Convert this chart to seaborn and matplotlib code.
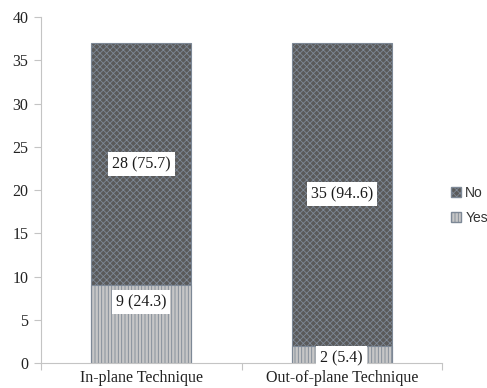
import matplotlib
matplotlib.use("Agg")
import matplotlib.pyplot as plt
import seaborn as sns
import pandas as pd
from matplotlib.patches import Patch

categories = ["In-plane Technique", "Out-of-plane Technique"]
yes_counts = [9, 2]
no_counts = [28, 35]
yes_labels = ["9 (24.3)", "2 (5.4)"]
no_labels = ["28 (75.7)", "35 (94..6)"]

totals = [y + n for y, n in zip(yes_counts, no_counts)]
df = pd.DataFrame({"group": categories, "yes": yes_counts, "no": no_counts, "total": totals})

sns.set_theme(style="white")
plt.rcParams["hatch.linewidth"] = 0.6

fig = plt.figure(figsize=(4.87, 3.88), dpi=100)
ax = fig.add_axes([0.0842, 0.0644, 0.8234, 0.8916])

no_face, no_hatch = "#5a5a5a", "#979797"
yes_face, yes_hatch = "#c6c6c6", "#8e8e8e"
edge = "#7d8896"

# stacked bars: the full height drawn first, the "Yes" part over its base
sns.barplot(data=df, x="group", y="total", color=no_face, width=0.5,
            saturation=1, ax=ax, edgecolor=edge, linewidth=0.8)
n_first = len(ax.patches)
sns.barplot(data=df, x="group", y="yes", color=yes_face, width=0.5,
            saturation=1, ax=ax, edgecolor=edge, linewidth=0.8)

for i, p in enumerate(ax.patches):
    if i < n_first:
        p.set_hatch("xxxxx")
        p.set_facecolor(no_face)
        p._hatch_color = matplotlib.colors.to_rgba(no_hatch)
    else:
        p.set_hatch("|||||")
        p.set_facecolor(yes_face)
        p._hatch_color = matplotlib.colors.to_rgba(yes_hatch)
    p.set_edgecolor(edge)

box = dict(boxstyle="square,pad=0.25", facecolor="white", edgecolor="none")
yes_offsets = [2.0, 1.45]
for i, (yv, nv) in enumerate(zip(yes_counts, no_counts)):
    ax.text(i, yv + nv / 2, no_labels[i], ha="center", va="center",
            fontsize=11.5, family="Liberation Serif", color="#1a1a1a", bbox=box)
    ax.text(i, yv - yes_offsets[i], yes_labels[i], ha="center", va="center",
            fontsize=11.5, family="Liberation Serif", color="#1a1a1a", bbox=box)

ax.set_xlim(-0.5, 1.5)
ax.set_ylim(0, 40)
ax.set_yticks(range(0, 41, 5))
ax.set_xlabel("")
ax.set_ylabel("")

for s in ["top", "right"]:
    ax.spines[s].set_visible(False)
for s in ["left", "bottom"]:
    ax.spines[s].set_color("#c4c4c4")
    ax.spines[s].set_linewidth(0.8)

ax.set_xticks([-0.5, 0.5, 1.5], minor=True)
ax.tick_params(axis="x", which="major", length=0, pad=5)
ax.tick_params(axis="x", which="minor", length=5, color="#c4c4c4", width=0.8, direction="out", bottom=True)
ax.tick_params(axis="y", length=5, color="#c4c4c4", width=0.8, direction="out", left=True, pad=4)
for lab in ax.get_xticklabels() + ax.get_yticklabels():
    lab.set_family("Liberation Serif")
    lab.set_fontsize(11.5)
    lab.set_color("#222222")

handles = [Patch(facecolor=no_face, edgecolor=edge, hatch="xxxxx", label="No"),
           Patch(facecolor=yes_face, edgecolor=edge, hatch="|||||", label="Yes")]
leg = fig.legend(handles=handles, loc="center left", bbox_to_anchor=(0.927, 0.47),
                 frameon=False, handlelength=0.7, handleheight=0.7, handletextpad=0.3,
                 labelspacing=0.8, borderaxespad=0, borderpad=0,
                 prop={"family": "Liberation Sans", "size": 10})
for t in leg.get_texts():
    t.set_color("#333333")

fig.savefig("out.png", dpi=100)
